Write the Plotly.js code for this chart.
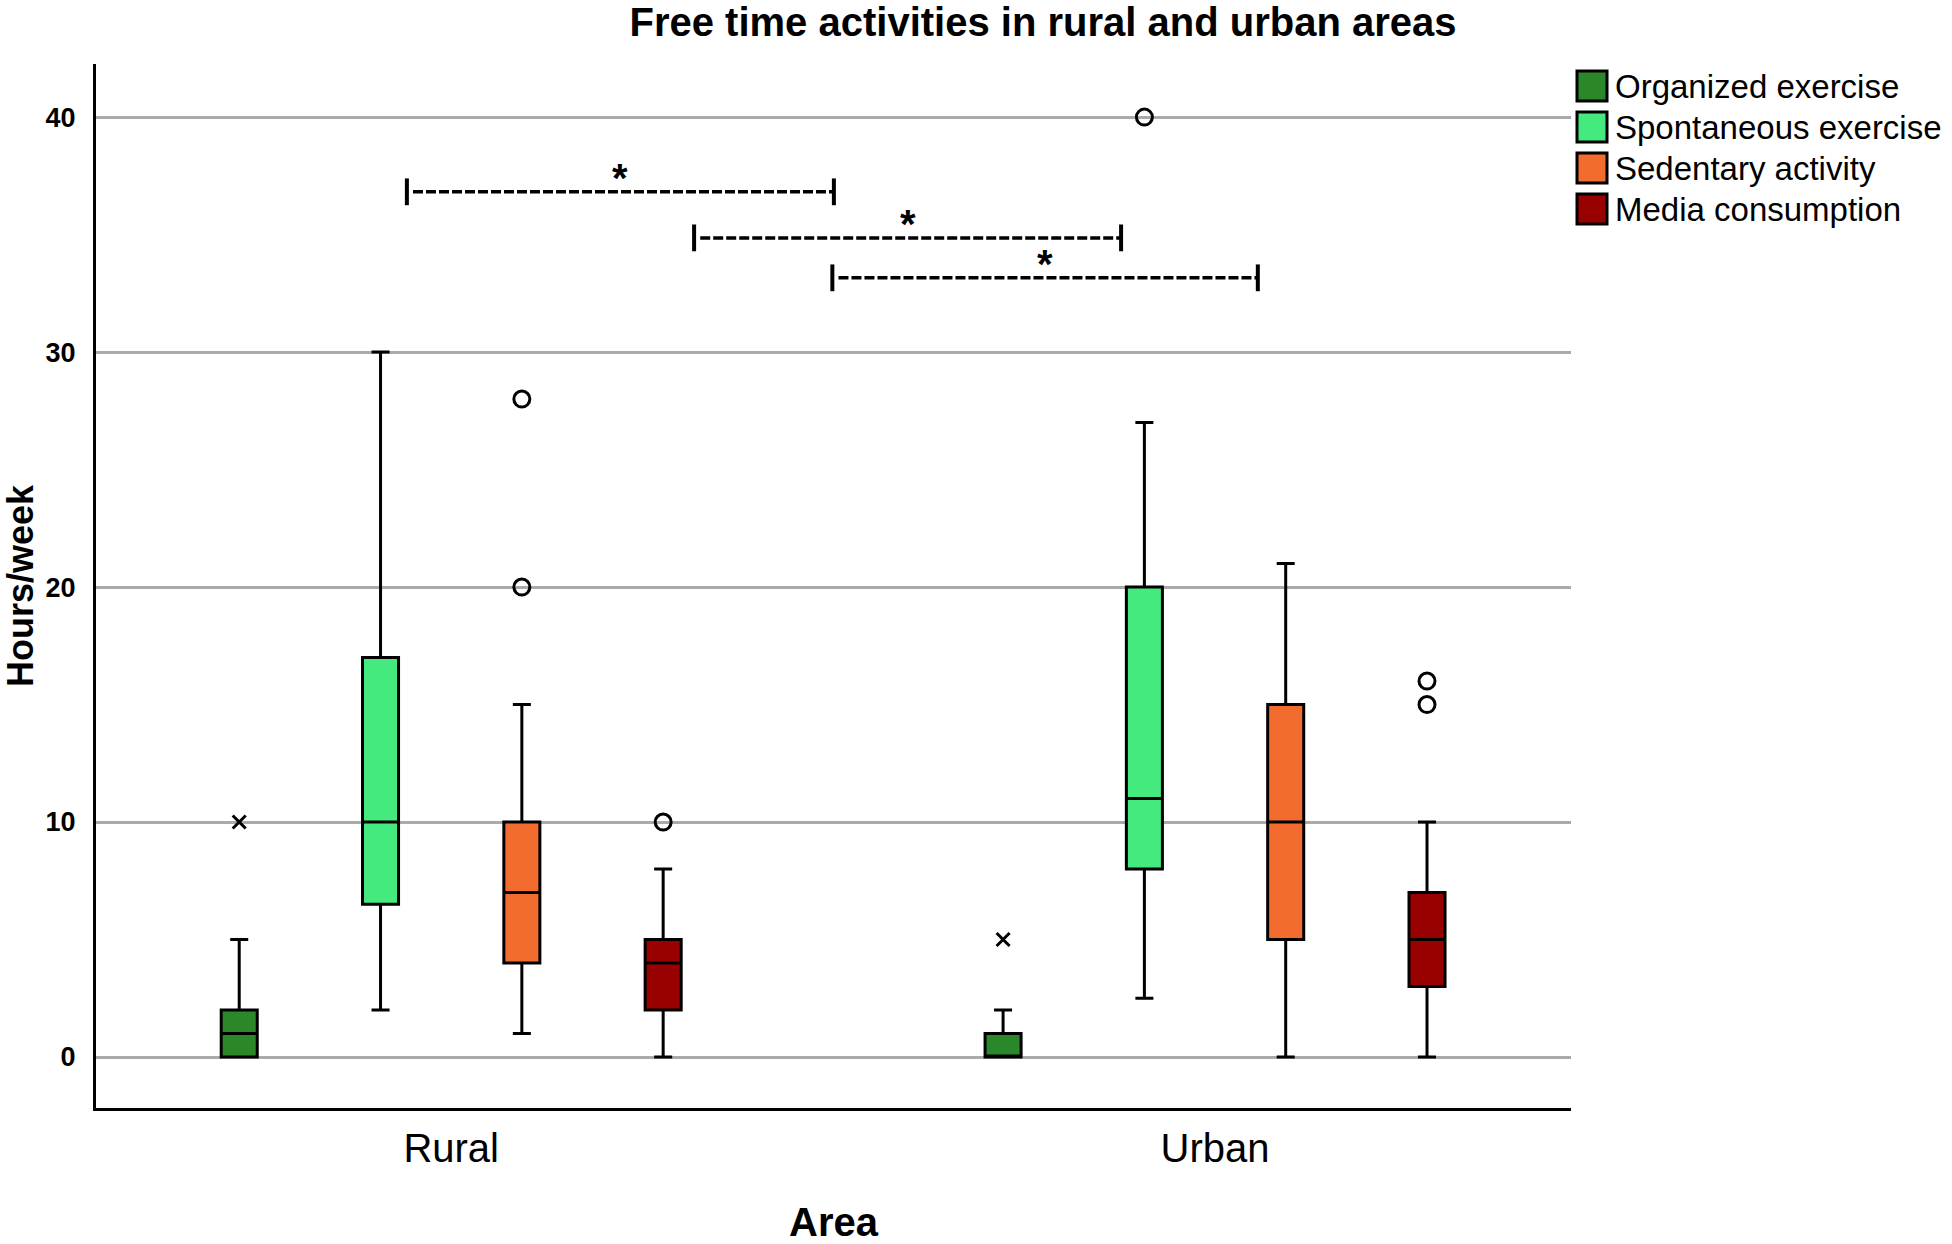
<!DOCTYPE html>
<html><head><meta charset="utf-8">
<script src="https://cdn.plot.ly/plotly-3.0.1.min.js"></script>
<style>body{margin:0;background:#fff}</style>
</head><body><div id="chart" style="width:1952px;height:1244px"></div>
<script>
// ---- data ----
const categories = ['Rural', 'Urban'];
const seriesNames = ['Organized exercise', 'Spontaneous exercise', 'Sedentary activity', 'Media consumption'];
const seriesColors = ['#2a882a', '#44ea7e', '#f26b2f', '#990000'];
const lowerFence = [[0, 0], [2, 2.5], [1, 0], [0, 0]];
const q1 = [[0, 0], [6.5, 8], [4, 5], [2, 3]];
const median = [[1, 0], [10, 11], [7, 10], [4, 5]];
const q3 = [[2, 1], [17, 20], [10, 15], [5, 7]];
const upperFence = [[5, 2], [30, 27], [15, 21], [8, 10]];
// outliers (circles)
const outlierSeries = [1, 2, 2, 3, 3, 3];
const outlierArea = ['Urban', 'Rural', 'Rural', 'Rural', 'Urban', 'Urban'];
const outlierValue = [40, 28, 20, 10, 16, 15];
// extreme values (crosses)
const extremeSeries = [0, 0];
const extremeArea = ['Rural', 'Urban'];
const extremeValue = [10, 5];
// significance brackets
const bracketStart = [-0.058, 0.318, 0.499];
const bracketEnd = [0.501, 0.877, 1.056];
const bracketLevel = [36.82, 34.86, 33.16];
const bracketLabel = ['*', '*', '*'];
const yTicks = [0, 10, 20, 30, 40];

const FONT = 'Liberation Sans, Arial, sans-serif';
const W = 1952, H = 1244;
const M = {l: 96, r: 381, t: 64, b: 136};
const plotW = W - M.l - M.r, plotH = H - M.t - M.b;
const px2x = p => (p - M.l) / plotW;
const px2y = p => (H - M.b - p) / plotH;

const traces = [];
seriesNames.forEach((name, i) => {
  traces.push({
    type: 'box', name: name, x: categories,
    q1: q1[i], median: median[i], q3: q3[i],
    lowerfence: lowerFence[i], upperfence: upperFence[i],
    boxpoints: false, offsetgroup: 'g' + i,
    fillcolor: seriesColors[i],
    line: {color: '#000', width: 3},
    whiskerwidth: 0.5, showlegend: false
  });
});
function pointTrace(i, seriesArr, areaArr, valArr, symbol, size) {
  const xs = [], ys = [];
  seriesArr.forEach((s, k) => { if (s === i) { xs.push(areaArr[k]); ys.push(valArr[k]); } });
  if (!xs.length) return null;
  return {
    type: 'box', name: seriesNames[i], x: xs, y: ys,
    boxpoints: 'all', jitter: 0, pointpos: 0, offsetgroup: 'g' + i,
    fillcolor: 'rgba(0,0,0,0)', line: {color: 'rgba(0,0,0,0)', width: 0},
    marker: {symbol: symbol, size: size, color: '#000', line: {color: '#000', width: 3}},
    hoveron: 'points', showlegend: false
  };
}
seriesNames.forEach((n, i) => {
  const t1 = pointTrace(i, outlierSeries, outlierArea, outlierValue, 'circle-open', 16);
  if (t1) traces.push(t1);
  const t2 = pointTrace(i, extremeSeries, extremeArea, extremeValue, 'x-thin-open', 13);
  if (t2) traces.push(t2);
});

const shapes = [], annotations = [];
const tickHalf = 0.57, starOffset = 0.6;
bracketStart.forEach((x0, k) => {
  const x1 = bracketEnd[k], yv = bracketLevel[k];
  shapes.push({type: 'line', xref: 'x', yref: 'y', x0: x0 + 0.008, x1: x1, y0: yv, y1: yv,
    line: {color: '#000', width: 3.5, dash: '10px,3px'}});
  [x0, x1].forEach(xe => shapes.push({type: 'line', xref: 'x', yref: 'y', x0: xe, x1: xe,
    y0: yv - tickHalf, y1: yv + tickHalf, line: {color: '#000', width: 4}}));
  annotations.push({xref: 'x', yref: 'y', x: (x0 + x1) / 2, y: yv + starOffset, text: bracketLabel[k],
    showarrow: false, xanchor: 'center', yanchor: 'middle',
    font: {family: FONT, size: 40, color: '#000', weight: 700}});
});
// legend (drawn with shapes + text)
seriesNames.forEach((name, i) => {
  const top = 70 + 41 * i;
  shapes.push({type: 'rect', xref: 'paper', yref: 'paper',
    x0: px2x(1577), x1: px2x(1607), y0: px2y(top + 1), y1: px2y(top + 31),
    fillcolor: seriesColors[i], line: {color: '#000', width: 3}});
  annotations.push({xref: 'paper', yref: 'paper', x: px2x(1613), y: px2y(top + 17),
    xanchor: 'left', yanchor: 'middle', text: name, showarrow: false,
    font: {family: FONT, size: 33, color: '#000'}});
});

const layout = {
  width: W, height: H, margin: M,
  paper_bgcolor: '#fff', plot_bgcolor: '#fff',
  showlegend: false, boxmode: 'group', boxgap: 0.26, boxgroupgap: 0.745,
  title: {text: 'Free time activities in rural and urban areas', x: 1043 / W, xanchor: 'center',
    xref: 'container', yref: 'container', y: 1 - 22 / H, yanchor: 'middle',
    font: {family: FONT, size: 40, color: '#000', weight: 700}},
  xaxis: {type: 'category', range: [-0.465, 1.466], showgrid: false, zeroline: false,
    showline: true, linecolor: '#000', linewidth: 2.5, ticks: '', ticklabelstandoff: 3,
    tickfont: {family: FONT, size: 40, color: '#000'},
    title: {text: 'Area', standoff: 67, font: {family: FONT, size: 40, color: '#000', weight: 700}}},
  yaxis: {range: [-2.17, 42.26], tickvals: yTicks, ticktext: yTicks.map(String),
    showgrid: true, gridcolor: '#aaaaaa', gridwidth: 3, zeroline: false,
    showline: true, linecolor: '#000', linewidth: 3, ticks: '', ticklabelstandoff: 12,
    tickfont: {family: FONT, size: 27, color: '#000', weight: 700},
    title: {text: 'Hours/week', standoff: 23, font: {family: FONT, size: 36, color: '#000', weight: 700}}},
  shapes: shapes, annotations: annotations
};
Plotly.newPlot('chart', traces, layout, {displayModeBar: false, staticPlot: true});
</script></body></html>
